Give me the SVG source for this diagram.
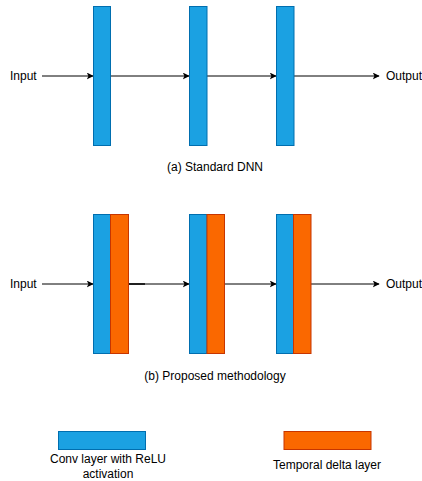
<svg xmlns="http://www.w3.org/2000/svg" width="422" height="481" viewBox="0 0 422 481">
<defs>
<style>
.conv{fill:#1ba1e2;stroke:#006eaf;stroke-width:1}
.delta{fill:#fa6800;stroke:#c73500;stroke-width:1}
.t{font-family:"Liberation Sans",Arial,sans-serif;font-size:12px;fill:#000}
.c{fill:none;stroke:#000;stroke-width:1;marker-end:url(#ah)}
</style>
<marker id="ah" viewBox="0 0 10 10" refX="9" refY="5" markerWidth="7" markerHeight="7" markerUnits="userSpaceOnUse" orient="auto">
<path d="M0,0 L10,5 L0,10 L2.5,5 Z" fill="#000"/>
</marker>
</defs>
<rect width="422" height="481" fill="#fff"/>
<g id="connectors">
<line class="c" x1="42" y1="76" x2="93" y2="76"/>
<line class="c" x1="110.5" y1="76" x2="189" y2="76"/>
<line class="c" x1="207" y1="76" x2="276" y2="76"/>
<line class="c" x1="294" y1="76" x2="379" y2="76"/>
<line class="c" x1="42" y1="284" x2="93" y2="284"/>
<line class="c" x1="128.5" y1="284" x2="189" y2="284"/>
<line x1="128.5" y1="284" x2="145" y2="284" stroke="#000" stroke-width="1.5"/>
<line class="c" x1="225" y1="284" x2="276" y2="284"/>
<line class="c" x1="311" y1="284" x2="379" y2="284"/>
</g>
<g id="a-layer1"><rect class="conv" x="93.5" y="6.5" width="17" height="139"/></g>
<g id="a-layer2"><rect class="conv" x="189.5" y="6.5" width="17.5" height="139"/></g>
<g id="a-layer3"><rect class="conv" x="276.5" y="6.5" width="17.5" height="139"/></g>
<g id="b-layer1"><rect class="conv" x="93.5" y="214.5" width="17" height="139"/><rect class="delta" x="110.5" y="214.5" width="18" height="139"/></g>
<g id="b-layer2"><rect class="conv" x="189.5" y="214.5" width="17.5" height="139"/><rect class="delta" x="207" y="214.5" width="17.5" height="139"/></g>
<g id="b-layer3"><rect class="conv" x="276.5" y="214.5" width="17" height="139"/><rect class="delta" x="293.5" y="214.5" width="17.5" height="139"/></g>
<g id="a-input"><text class="t" x="10" y="80">Input</text></g>
<g id="a-output"><text class="t" x="386" y="80">Output</text></g>
<g id="b-input"><text class="t" x="10" y="288">Input</text></g>
<g id="b-output"><text class="t" x="386" y="288">Output</text></g>
<g id="caption-a"><text class="t" x="215" y="171" text-anchor="middle">(a) Standard DNN</text></g>
<g id="caption-b"><text class="t" x="215" y="380" text-anchor="middle">(b) Proposed methodology</text></g>
<g id="legend-conv">
<rect class="conv" x="58.5" y="431.5" width="87" height="18"/>
<text class="t" x="108" y="463" text-anchor="middle">Conv layer with ReLU</text>
<text class="t" x="108" y="477.5" text-anchor="middle">activation</text>
</g>
<g id="legend-delta">
<rect class="delta" x="284" y="431.5" width="87" height="18"/>
<text class="t" x="327" y="469" text-anchor="middle">Temporal delta layer</text>
</g>
</svg>
